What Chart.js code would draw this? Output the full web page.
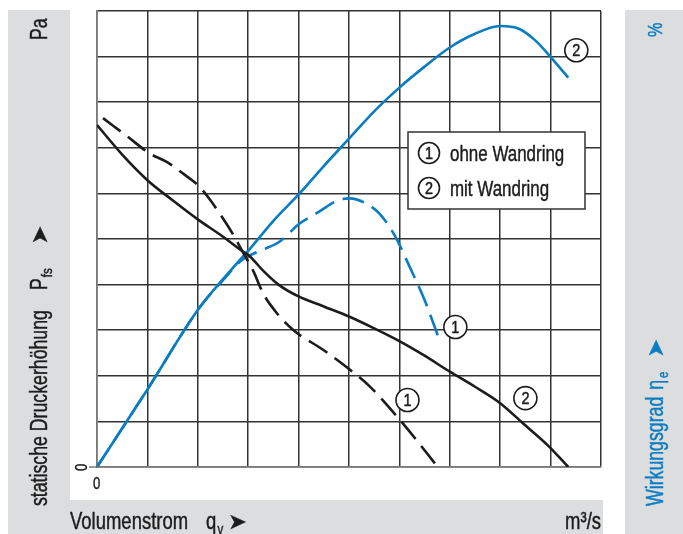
<!DOCTYPE html>
<html lang="de">
<head>
  <meta charset="UTF-8" />
  <title>Kennlinie Volumenstrom</title>
  <script src="https://cdn.jsdelivr.net/npm/chart.js"></script>
  <style>
    html, body { margin: 0; padding: 0; background: #fff; }
    #kennlinie { display: block; }
  </style>
</head>
<body>
  <canvas id="kennlinie" width="683" height="534"></canvas>

  <script>
    // Achsen in Rastereinheiten (10 x 10 Kästchen)
    const qTicks = [0];
    const pTicks = [0];

    // statische Druckerhöhung, mit Wandring (2)
    const qDruckMit = [0, 0.5, 1.0, 1.5, 2.0, 2.5, 2.85, 3.05, 3.3, 3.6, 4.0, 4.5, 5.0, 5.5, 6.0, 6.5, 7.0, 7.5, 8.0, 8.45, 8.95, 9.35];
    const druckMit  = [7.5, 6.85, 6.29, 5.85, 5.43, 5.05, 4.76, 4.6, 4.3, 4.0, 3.74, 3.52, 3.3, 3.04, 2.76, 2.44, 2.09, 1.76, 1.4, 0.96, 0.47, 0];

    // statische Druckerhöhung, ohne Wandring (1)
    const qDruckOhne = [0.12, 0.6, 1.04, 1.4, 1.7, 2.03, 2.25, 2.5, 2.7, 2.9, 3.1, 3.3, 3.55, 3.9, 4.5, 5.0, 5.4, 5.8, 6.2, 6.76];
    const druckOhne  = [7.65, 7.25, 6.88, 6.68, 6.44, 6.15, 5.85, 5.45, 5.1, 4.7, 4.3, 3.8, 3.4, 3.0, 2.56, 2.15, 1.78, 1.3, 0.78, 0];

    // Wirkungsgrad, mit Wandring (2)
    const qEtaMit = [0, 1.0, 2.03, 2.5, 2.89, 3.03, 3.5, 4.02, 4.5, 5.0, 5.5, 6.0, 6.5, 7.0, 7.5, 8.0, 8.37, 8.7, 9.01, 9.35];
    const etaMit  = [0, 1.7, 3.49, 4.12, 4.61, 4.78, 5.4, 6.0, 6.6, 7.2, 7.8, 8.32, 8.78, 9.2, 9.5, 9.67, 9.61, 9.35, 8.98, 8.54];

    // Wirkungsgrad, ohne Wandring (1)
    const qEtaOhne = [0, 1.0, 2.03, 2.5, 2.89, 3.19, 3.62, 4.02, 4.35, 4.81, 5.01, 5.3, 5.6, 5.9, 6.2, 6.5, 6.76];
    const etaOhne  = [0, 1.7, 3.49, 4.1, 4.55, 4.72, 4.94, 5.34, 5.56, 5.86, 5.89, 5.8, 5.56, 5.09, 4.4, 3.66, 2.89];

    // Kurvennummern: [q, Wert, Nummer, Achse]
    const kurvenMarken = [
      [9.51, 9.14, '2', 'y1'],
      [7.11, 3.07, '1', 'y1'],
      [6.16, 1.47, '1', 'y'],
      [8.50, 1.51, '2', 'y']
    ];
    const legendeTexte = [['1', 'ohne Wandring'], ['2', 'mit Wandring']];

    const SCHWARZ = '#1c1c1c';
    const BLAU = '#0a7cc2';
    const GRAU = '#dcdddf';
    const SCHRIFT = '"Liberation Sans", Arial, sans-serif';
    const SCHMAL = 0.77; // Schrift horizontal stauchen (Condensed-Optik)

    const punkte = (xs, ys) => xs.map((x, i) => ({ x: x, y: ys[i] }));

    // Text in Teilen zeichnen (für Indizes), optional gedreht
    function textZug(ctx, x, y, drehung, teile, farbe, ausrichtung) {
      ctx.save();
      ctx.translate(x, y);
      ctx.rotate(drehung);
      ctx.fillStyle = farbe;
      ctx.strokeStyle = farbe;
      ctx.lineWidth = 0.45;
      ctx.textBaseline = 'alphabetic';
      ctx.textAlign = 'left';
      let gesamt = 0;
      teile.forEach(t => {
        ctx.font = t.groesse + 'px ' + (t.familie || SCHRIFT);
        gesamt += (t.abstand || 0) + ctx.measureText(t.text).width * (t.k || SCHMAL);
      });
      let pos = ausrichtung === 'right' ? -gesamt : 0;
      teile.forEach(t => {
        const k = t.k || SCHMAL;
        pos += t.abstand || 0;
        ctx.font = t.groesse + 'px ' + (t.familie || SCHRIFT);
        ctx.save();
        ctx.translate(pos, t.dy || 0);
        ctx.scale(k, 1);
        ctx.fillText(t.text, 0, 0);
        ctx.strokeText(t.text, 0, 0);
        ctx.restore();
        pos += ctx.measureText(t.text).width * k;
      });
      ctx.restore();
    }

    function kreisNummer(ctx, x, y, r, nummer) {
      ctx.save();
      ctx.beginPath();
      ctx.arc(x, y, r, 0, Math.PI * 2);
      ctx.fillStyle = '#fff';
      ctx.fill();
      ctx.lineWidth = 1.6;
      ctx.strokeStyle = SCHWARZ;
      ctx.stroke();
      ctx.fillStyle = SCHWARZ;
      ctx.strokeStyle = SCHWARZ;
      ctx.lineWidth = 0.5;
      ctx.font = '17px ' + SCHRIFT;
      ctx.textAlign = 'center';
      ctx.textBaseline = 'middle';
      ctx.translate(x, y + 1);
      ctx.scale(0.85, 1);
      ctx.fillText(nummer, 0, 0);
      ctx.strokeText(nummer, 0, 0);
      ctx.restore();
    }

    const hintergrund = {
      id: 'hintergrund',
      beforeDraw(chart) {
        const ctx = chart.ctx;
        ctx.save();
        ctx.fillStyle = '#fff';
        ctx.fillRect(0, 0, chart.width, chart.height);
        ctx.fillStyle = GRAU;
        ctx.fillRect(8, 10, chart.width - 8, chart.height - 10);
        ctx.fillStyle = '#fff';
        ctx.fillRect(70, 10, 555, 490);
        ctx.fillRect(603, 500, 22, 34);
        ctx.restore();
      }
    };

    const beschriftung = {
      id: 'beschriftung',
      afterDraw(chart) {
        const ctx = chart.ctx;
        const sx = chart.scales.x, sy = chart.scales.y;
        const x0 = sx.getPixelForValue(qTicks[0]);
        const y0 = sy.getPixelForValue(pTicks[0]);

        // Nullpunkt
        ctx.save();
        ctx.strokeStyle = '#555';
        ctx.lineWidth = 1.2;
        ctx.beginPath();
        ctx.moveTo(x0 - 8, y0);
        ctx.lineTo(x0, y0);
        ctx.stroke();
        ctx.restore();
        textZug(ctx, x0 - 10, y0 + 4, -Math.PI / 2, [{ text: String(pTicks[0]), groesse: 17 }], SCHWARZ);
        textZug(ctx, x0 - 4, y0 + 22, 0, [{ text: String(qTicks[0]), groesse: 17 }], SCHWARZ);

        // linke Achse
        textZug(ctx, 47, 506, -Math.PI / 2, [
          { text: 'statische Druckerhöhung', groesse: 23 },
          { text: 'P', groesse: 23, abstand: 20 },
          { text: 'fs', groesse: 15, dy: 5, abstand: 1 },
          { text: '➤', groesse: 22, abstand: 24, familie: '"DejaVu Sans"', k: 1 }
        ], SCHWARZ);
        textZug(ctx, 47, 40, -Math.PI / 2, [{ text: 'Pa', groesse: 23 }], SCHWARZ);

        // rechte Achse
        textZug(ctx, 663, 506, -Math.PI / 2, [
          { text: 'Wirkungsgrad', groesse: 23 },
          { text: 'η', groesse: 23, abstand: 7 },
          { text: 'e', groesse: 15, dy: 5, abstand: 2 },
          { text: '➤', groesse: 22, abstand: 14, familie: '"DejaVu Sans"', k: 1 }
        ], BLAU);
        textZug(ctx, 662, 37, -Math.PI / 2, [{ text: '%', groesse: 21 }], BLAU);

        // untere Achse
        textZug(ctx, 70, 529, 0, [
          { text: 'Volumenstrom', groesse: 24 },
          { text: 'q', groesse: 24, abstand: 18 },
          { text: 'v', groesse: 15, dy: 5, abstand: 1 },
          { text: '➤', groesse: 22, abstand: 5, familie: '"DejaVu Sans"', k: 1 }
        ], SCHWARZ);
        textZug(ctx, 601, 529, 0, [{ text: 'm³/s', groesse: 24 }], SCHWARZ, 'right');

        // Legende
        ctx.save();
        ctx.fillStyle = '#fff';
        ctx.fillRect(408, 132, 177, 77);
        ctx.strokeStyle = '#333';
        ctx.lineWidth = 1.5;
        ctx.strokeRect(408, 132, 177, 77);
        ctx.restore();
        legendeTexte.forEach((eintrag, i) => {
          const yy = 153 + i * 35;
          kreisNummer(ctx, 429, yy, 10.5, eintrag[0]);
          textZug(ctx, 450, yy + 8, 0, [{ text: eintrag[1], groesse: 22 }], SCHWARZ);
        });

        // Kurvennummern
        kurvenMarken.forEach(m => {
          const px = sx.getPixelForValue(m[0]);
          const py = chart.scales[m[3]].getPixelForValue(m[1]);
          kreisNummer(ctx, px, py, 11.5, m[2]);
        });
      }
    };

    const gitter = {
      display: true,
      min: 0,
      max: 10,
      ticks: { display: false, stepSize: 1 },
      grid: { color: '#333', lineWidth: 1.5, drawTicks: false },
      border: { display: true, color: '#7a7a7a', width: 1.5 }
    };

    new Chart(document.getElementById('kennlinie'), {
      type: 'line',
      data: {
        datasets: [
          { label: 'Druck mit Wandring', data: punkte(qDruckMit, druckMit), borderColor: SCHWARZ, yAxisID: 'y' },
          { label: 'Druck ohne Wandring', data: punkte(qDruckOhne, druckOhne), borderColor: SCHWARZ, borderDash: [22, 9], yAxisID: 'y' },
          { label: 'Wirkungsgrad mit Wandring', data: punkte(qEtaMit, etaMit), borderColor: BLAU, yAxisID: 'y1' },
          { label: 'Wirkungsgrad ohne Wandring', data: punkte(qEtaOhne, etaOhne), borderColor: BLAU, borderDash: [22, 9], yAxisID: 'y1' }
        ]
      },
      options: {
        responsive: false,
        animation: false,
        layout: { padding: { left: 97, right: 82, top: 11, bottom: 67 } },
        elements: {
          point: { radius: 0 },
          line: { borderWidth: 2.6, cubicInterpolationMode: 'monotone', fill: false }
        },
        scales: {
          x: Object.assign({ type: 'linear' }, gitter),
          y: Object.assign({ type: 'linear', position: 'left' }, gitter),
          y1: { type: 'linear', position: 'right', min: 0, max: 10, display: false }
        },
        plugins: {
          legend: { display: false },
          tooltip: { enabled: false }
        }
      },
      plugins: [hintergrund, beschriftung]
    });
  </script>
</body>
</html>
